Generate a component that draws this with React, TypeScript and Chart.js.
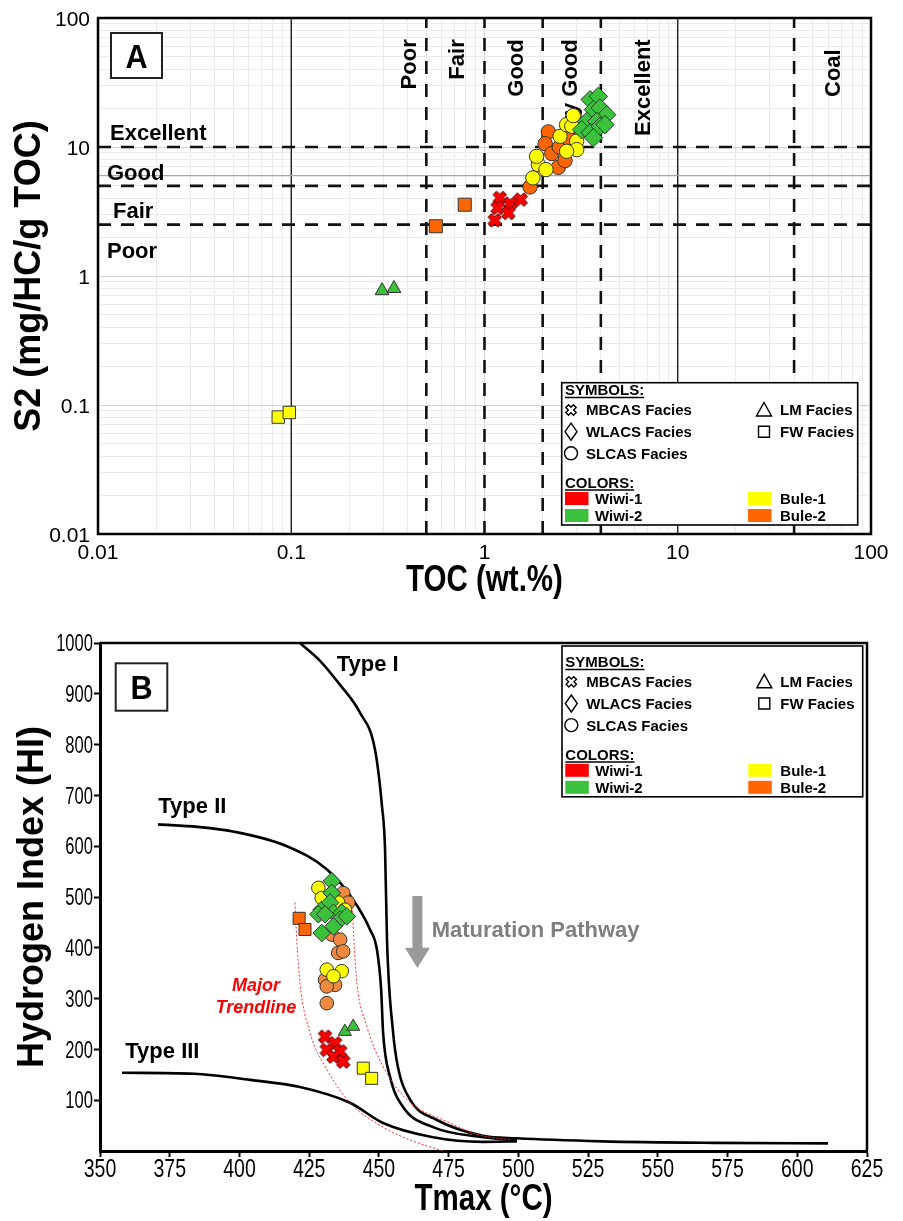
import React, { useEffect, useRef } from 'react';
import { Chart, registerables } from 'chart.js';

Chart.register(...registerables);

const FONT = '"Liberation Sans", Arial, Helvetica, sans-serif';

const RED = '#ff0000';
const GREEN = '#3cc13c';
const YELLOW = '#ffff00';
const ORANGE = '#ff6600';
const ORANGE_LIGHT = '#f08a40';

// ================= Panel A : S2 vs TOC =================
const tocTickLabels = [0.01, 0.1, 1, 10, 100];
const s2TickLabels = [0.01, 0.1, 1, 10, 100];
const tocDashedLimits = [0.5, 1, 2, 4, 40];
const tocSolidLimits = [0.1, 10];
const s2DashedLimits = [2.5, 5, 10];
const s2SolidLimits = [6];

const aWiwi1MBCAS = [
  { x: 1.2, y: 4.03 }, { x: 1.36, y: 3.64 }, { x: 1.54, y: 3.91 },
  { x: 1.17, y: 3.37 }, { x: 1.33, y: 3.08 }, { x: 1.13, y: 2.7 },
];
const aBule2FW = [{ x: 0.79, y: 3.57 }, { x: 0.56, y: 2.43 }];
const aWiwi2LM = [{ x: 0.295, y: 0.77 }, { x: 0.34, y: 0.8 }];
const aBule1FW = [{ x: 0.0857, y: 0.0806 }, { x: 0.0977, y: 0.0875 }];
const aBule2SLCAS = [
  { x: 1.72, y: 4.9 }, { x: 2.14, y: 13.1 }, { x: 2.06, y: 10.6 }, { x: 2.23, y: 8.89 },
  { x: 2.44, y: 9.95 }, { x: 2.68, y: 11.8 }, { x: 2.41, y: 6.96 }, { x: 2.61, y: 7.84 },
];
const aBule1SLCAS = [
  { x: 1.78, y: 5.76 }, { x: 1.9, y: 7.3 }, { x: 2.08, y: 6.68 }, { x: 1.86, y: 8.47 },
  { x: 2.46, y: 12.1 }, { x: 2.66, y: 14.9 }, { x: 2.94, y: 16.8 }, { x: 2.83, y: 14.5 },
  { x: 3.0, y: 11.1 }, { x: 3.0, y: 9.54 }, { x: 2.66, y: 9.26 }, { x: 2.88, y: 17.5 },
];
const aWiwi2WLACS = [
  { x: 3.52, y: 23.3 }, { x: 3.88, y: 24.7 }, { x: 3.66, y: 19.5 }, { x: 3.96, y: 20.1 },
  { x: 4.29, y: 17.8 }, { x: 3.38, y: 15.8 }, { x: 3.81, y: 15.8 }, { x: 3.18, y: 13.6 },
  { x: 3.52, y: 12.9 }, { x: 3.96, y: 14.5 }, { x: 3.66, y: 11.8 }, { x: 4.2, y: 14.9 },
];

// ================= Panel B : HI vs Tmax =================
const tmaxTicks = [350, 375, 400, 425, 450, 475, 500, 525, 550, 575, 600, 625];
const hiTicks = [100, 200, 300, 400, 500, 600, 700, 800, 900, 1000];

const typeICurve = [
  { x: 421.7, y: 1000 }, { x: 428.9, y: 965 }, { x: 436.0, y: 918 }, { x: 443.2, y: 863 },
  { x: 448.6, y: 790 }, { x: 451.1, y: 679 }, { x: 452.2, y: 594 }, { x: 452.9, y: 416 },
  { x: 455.1, y: 233 }, { x: 456.8, y: 166 }, { x: 461.2, y: 101 }, { x: 470.8, y: 61 },
  { x: 487.3, y: 30 }, { x: 499.5, y: 25 }, { x: 530, y: 19 }, { x: 570, y: 16 }, { x: 611, y: 15 },
];
const typeIICurve = [
  { x: 370.8, y: 643 }, { x: 385, y: 638 }, { x: 397.7, y: 629 }, { x: 417.0, y: 600 },
  { x: 431.4, y: 554 }, { x: 440.7, y: 495 }, { x: 446.8, y: 436 }, { x: 449.3, y: 396 },
  { x: 450.8, y: 318 }, { x: 451.5, y: 233 }, { x: 454.0, y: 146 }, { x: 458.6, y: 87 },
  { x: 469.4, y: 47 }, { x: 487.3, y: 27 }, { x: 499.5, y: 21 },
];
const typeIIICurve = [
  { x: 357.9, y: 154 }, { x: 383.7, y: 152 }, { x: 403.8, y: 140 }, { x: 421.7, y: 126 },
  { x: 439.6, y: 95 }, { x: 451.5, y: 55 }, { x: 469.4, y: 27 }, { x: 487.3, y: 18 }, { x: 499.5, y: 19 },
];
const trendLeft = [
  { x: 419.9, y: 489 }, { x: 420.5, y: 422 }, { x: 421.7, y: 331 }, { x: 425.3, y: 233 },
  { x: 431.4, y: 160 }, { x: 439.6, y: 95 }, { x: 451.5, y: 47 }, { x: 462, y: 20 }, { x: 473, y: 0 },
];
const trendRight = [
  { x: 440.4, y: 481 }, { x: 441.2, y: 400 }, { x: 442.1, y: 331 }, { x: 445.7, y: 245 },
  { x: 451.5, y: 166 }, { x: 460.1, y: 101 }, { x: 475.5, y: 55 }, { x: 485, y: 33 }, { x: 497, y: 22 },
];

const bWiwi2WLACS = [
  { x: 433.1, y: 531 }, { x: 433.1, y: 508 }, { x: 429.5, y: 475 }, { x: 432.5, y: 489 },
  { x: 428.3, y: 466 }, { x: 433.7, y: 469 }, { x: 436.7, y: 469 }, { x: 436.1, y: 456 },
  { x: 433.7, y: 442 }, { x: 429.5, y: 429 }, { x: 438.5, y: 462 }, { x: 430.7, y: 466 },
];
const bBule1SLCAS = [
  { x: 428.3, y: 518 }, { x: 429.5, y: 498 }, { x: 435.4, y: 489 }, { x: 437.8, y: 475 },
  { x: 431.3, y: 357 }, { x: 436.7, y: 354 }, { x: 433.7, y: 344 },
];
const bBule2SLCAS = [
  { x: 437.2, y: 508 }, { x: 439.0, y: 489 }, { x: 433.1, y: 426 }, { x: 436.1, y: 416 },
  { x: 435.4, y: 390 }, { x: 437.2, y: 393 }, { x: 430.7, y: 337 }, { x: 434.3, y: 327 },
  { x: 431.3, y: 324 }, { x: 431.3, y: 291 },
];
const bWiwi1MBCAS = [
  { x: 430.7, y: 225 }, { x: 434.3, y: 212 }, { x: 431.3, y: 199 },
  { x: 436.1, y: 196 }, { x: 433.7, y: 186 }, { x: 437.2, y: 176 },
];
const bWiwi2LM = [{ x: 437.8, y: 235 }, { x: 440.8, y: 245 }];
const bBule1FW = [{ x: 444.4, y: 163 }, { x: 447.4, y: 143 }];
const bBule2FW = [{ x: 421.4, y: 458 }, { x: 423.5, y: 436 }];

const symbolLabels = ['MBCAS Facies', 'WLACS Facies', 'SLCAS Facies', 'LM Facies', 'FW Facies'];
const colorLabels = ['Wiwi-1', 'Wiwi-2', 'Bule-1', 'Bule-2'];
const colorValues = [RED, GREEN, YELLOW, ORANGE];

// ---------------- helpers ----------------
function crossPath(ctx: CanvasRenderingContext2D, cx: number, cy: number, L: number, t: number) {
  const c = Math.SQRT1_2;
  const p = [[-t, -L], [t, -L], [t, -t], [L, -t], [L, t], [t, t], [t, L], [-t, L], [-t, t], [-L, t], [-L, -t], [-t, -t]];
  ctx.beginPath();
  p.forEach(([px, py], i) => {
    const rx = (px - py) * c;
    const ry = (px + py) * c;
    if (i === 0) ctx.moveTo(cx + rx, cy + ry);
    else ctx.lineTo(cx + rx, cy + ry);
  });
  ctx.closePath();
}

function makeCrossMarker(size: number, fill: string) {
  const cv = document.createElement('canvas');
  cv.width = size;
  cv.height = size;
  const g = cv.getContext('2d') as CanvasRenderingContext2D;
  const t = size * 0.15;
  const L = Math.sqrt(Math.pow(size / 2 - 1, 2) - t * t);
  crossPath(g, size / 2, size / 2, L, t);
  g.fillStyle = fill;
  g.fill();
  g.lineWidth = 1;
  g.strokeStyle = '#4a0000';
  g.stroke();
  return cv;
}

function isPow10(v: number) {
  if (!v) return false;
  const l = Math.log10(v);
  return Math.abs(l - Math.round(l)) < 1e-9;
}

function logGrid(majors: number[]) {
  const out: number[] = [];
  for (let i = 0; i < majors.length; i++) {
    out.push(majors[i]);
    if (i < majors.length - 1) for (let k = 2; k <= 9; k++) out.push(+(majors[i] * k).toPrecision(6));
  }
  return out;
}

function scatterSet(label: string, data: any[], style: any, color: string, radius: number, order: number, border = '#333') {
  return {
    type: 'scatter', label, data, order, showLine: false,
    pointStyle: style, pointRadius: radius, pointHoverRadius: radius,
    pointBackgroundColor: color, pointBorderColor: border, pointBorderWidth: 1,
  };
}

function drawText(
  ctx: CanvasRenderingContext2D, s: string, x: number, y: number, font: string,
  opts: { color?: string; align?: CanvasTextAlign; sx?: number; rot?: number } = {},
) {
  ctx.save();
  ctx.font = font;
  ctx.fillStyle = opts.color || '#000';
  ctx.textAlign = opts.align || 'left';
  ctx.textBaseline = 'alphabetic';
  ctx.translate(x, y);
  if (opts.rot) ctx.rotate(opts.rot);
  if (opts.sx) ctx.scale(opts.sx, 1);
  ctx.fillText(s, 0, 0);
  ctx.restore();
}

function letterBox(ctx: CanvasRenderingContext2D, s: string, x: number, y: number, w: number, h: number) {
  ctx.save();
  ctx.fillStyle = '#fff';
  ctx.fillRect(x, y, w, h);
  ctx.strokeStyle = '#222';
  ctx.lineWidth = 2;
  ctx.strokeRect(x, y, w, h);
  ctx.restore();
  drawText(ctx, s, x + w / 2, y + h / 2 + 12.2, `bold 34px ${FONT}`, { align: 'center', sx: 0.9 });
}

function drawLegend(ctx: CanvasRenderingContext2D, left: number, top: number, width: number, extraTop: number) {
  const height = 142.3 + extraTop;
  ctx.save();
  ctx.fillStyle = '#fff';
  ctx.fillRect(left, top, width, height);
  ctx.strokeStyle = '#000';
  ctx.lineWidth = 1.6;
  ctx.strokeRect(left, top, width, height);
  const f = `bold 15px ${FONT}`;
  const t0 = top + extraTop;
  const base = (c: number) => t0 + c + 5.4;
  const head = (s: string, c: number) => {
    drawText(ctx, s, left + 3.3, base(c), f);
    ctx.font = f;
    const w = ctx.measureText(s).width;
    ctx.beginPath();
    ctx.moveTo(left + 3.3, base(c) + 2.2);
    ctx.lineTo(left + 3.3 + w, base(c) + 2.2);
    ctx.lineWidth = 1.5;
    ctx.strokeStyle = '#000';
    ctx.stroke();
  };
  head('SYMBOLS:', 7.3);
  const rows = [27.3, 49, 70.6];
  const ix = left + 9.3;
  ctx.lineWidth = 1.4;
  ctx.strokeStyle = '#000';
  ctx.fillStyle = '#fff';
  crossPath(ctx, ix, t0 + rows[0], 5.4, 1.9);
  ctx.fill(); ctx.stroke();
  let cy = t0 + rows[1];
  ctx.beginPath();
  ctx.moveTo(ix, cy - 8.5); ctx.lineTo(ix + 6, cy); ctx.lineTo(ix, cy + 8.5); ctx.lineTo(ix - 6, cy); ctx.closePath();
  ctx.fill(); ctx.stroke();
  cy = t0 + rows[2];
  ctx.beginPath();
  ctx.arc(ix, cy, 6.5, 0, Math.PI * 2);
  ctx.fill(); ctx.stroke();
  const rx = left + 202.3;
  cy = t0 + rows[0];
  ctx.beginPath();
  ctx.moveTo(rx, cy - 7.5); ctx.lineTo(rx + 7.5, cy + 6); ctx.lineTo(rx - 7.5, cy + 6); ctx.closePath();
  ctx.fill(); ctx.stroke();
  cy = t0 + rows[1];
  ctx.beginPath();
  ctx.rect(rx - 5.5, cy - 5.5, 11, 11);
  ctx.fill(); ctx.stroke();
  drawText(ctx, symbolLabels[0], left + 24.3, base(rows[0]), f);
  drawText(ctx, symbolLabels[1], left + 24.3, base(rows[1]), f);
  drawText(ctx, symbolLabels[2], left + 24.3, base(rows[2]), f);
  drawText(ctx, symbolLabels[3], left + 218.3, base(rows[0]), f);
  drawText(ctx, symbolLabels[4], left + 218.3, base(rows[1]), f);
  head('COLORS:', 99.8);
  const crow = [115.8, 132.8];
  const sw = [[3.3, crow[0]], [3.3, crow[1]], [186.3, crow[0]], [186.3, crow[1]]];
  sw.forEach(([sx, c], i) => {
    ctx.fillStyle = colorValues[i];
    ctx.fillRect(left + sx, t0 + c - 6.5, 23.5, 13);
    const tx = sx < 100 ? left + 33.3 : left + 218.3;
    drawText(ctx, colorLabels[i], tx, base(c), f);
  });
  ctx.restore();
}

// tick labels placed from the chart's own scales
function drawXTickLabels(chart: any, vals: number[], size: number, sx: number, baseline: number) {
  const xs = chart.scales.x;
  const f = `${size}px ${FONT}`;
  vals.forEach((v) => drawText(chart.ctx, String(v), xs.getPixelForValue(v), baseline, f, { align: 'center', sx }));
}
function drawYTickLabels(chart: any, vals: number[], size: number, sx: number, right: number) {
  const ys = chart.scales.y;
  const f = `${size}px ${FONT}`;
  vals.forEach((v) => drawText(chart.ctx, String(v), right, ys.getPixelForValue(v) + 0.358 * size, f, { align: 'right', sx }));
}

const noHover = { legend: { display: false }, tooltip: { enabled: false } };

// ---------------- Panel A plugin ----------------
const panelAPlugin = {
  id: 'panelA',
  beforeDatasetsDraw(chart: any) {
    const { ctx, chartArea: a } = chart;
    const xs = chart.scales.x;
    const ys = chart.scales.y;
    ctx.save();
    ctx.beginPath();
    ctx.rect(a.left, a.top, a.right - a.left, a.bottom - a.top);
    ctx.clip();
    const vline = (v: number) => {
      const p = xs.getPixelForValue(v);
      ctx.beginPath(); ctx.moveTo(p, a.bottom); ctx.lineTo(p, a.top); ctx.stroke();
    };
    const hline = (v: number) => {
      const p = ys.getPixelForValue(v);
      ctx.beginPath(); ctx.moveTo(a.left, p); ctx.lineTo(a.right, p); ctx.stroke();
    };
    ctx.strokeStyle = '#111';
    ctx.lineWidth = 1.3;
    tocSolidLimits.forEach(vline);
    ctx.strokeStyle = '#a6a6a6';
    ctx.lineWidth = 1.2;
    s2SolidLimits.forEach(hline);
    ctx.setLineDash([13, 10]);
    ctx.strokeStyle = '#111';
    ctx.lineWidth = 2.6;
    tocDashedLimits.forEach(vline);
    s2DashedLimits.forEach(hline);
    ctx.restore();

    const lf = `bold 22px ${FONT}`;
    drawText(ctx, 'Excellent', 110, 140, lf);
    drawText(ctx, 'Good', 107, 180, lf);
    drawText(ctx, 'Fair', 113, 218, lf);
    drawText(ctx, 'Poor', 107, 258, lf);
    const vl = [
      ['Poor', 408, 39.3], ['Fair', 456, 39.3], ['Good', 515.5, 39.3],
      ['Very Good', 569.5, 39.3], ['Excellent', 641.7, 39.3], ['Coal', 832, 49.3],
    ];
    vl.forEach(([s, cx, top]: any) => drawText(ctx, s, cx + 7.9, top, lf, { align: 'right', rot: -Math.PI / 2 }));
  },
  afterDraw(chart: any) {
    const { ctx, chartArea: a } = chart;
    ctx.save();
    ctx.strokeStyle = '#000';
    ctx.lineWidth = 2.5;
    ctx.strokeRect(a.left, a.top, a.right - a.left, a.bottom - a.top);
    ctx.restore();
    drawXTickLabels(chart, tocTickLabels, 21, 1, 558.5);
    drawYTickLabels(chart, s2TickLabels, 21, 1, 90);
    drawLegend(ctx, 561.7, 382.7, 296, 0);
    letterBox(ctx, 'A', 111, 33, 51, 45);
    drawText(ctx, 'S2 (mg/HC/g TOC)', 40, (a.top + a.bottom) / 2, `bold 36px ${FONT}`, { align: 'center', rot: -Math.PI / 2 });
    drawText(ctx, 'TOC (wt.%)', (a.left + a.right) / 2, 591, `bold 36px ${FONT}`, { align: 'center', sx: 0.82 });
  },
};

// ---------------- Panel B plugin ----------------
const OY = 610;
const panelBPlugin = {
  id: 'panelB',
  afterDraw(chart: any) {
    const { ctx, chartArea: a } = chart;
    const xs = chart.scales.x;
    const ys = chart.scales.y;
    ctx.save();
    ctx.strokeStyle = '#000';
    ctx.lineWidth = 2.5;
    ctx.beginPath();
    ctx.moveTo(a.left, a.top);
    ctx.lineTo(a.right, a.top);
    ctx.lineTo(a.right, a.bottom);
    ctx.stroke();
    ctx.restore();

    const ax = xs.getPixelForValue(463.8);
    const yTop = ys.getPixelForValue(502);
    const yHead = ys.getPixelForValue(400);
    const yTip = ys.getPixelForValue(360);
    ctx.save();
    ctx.fillStyle = '#9a9a9a';
    ctx.beginPath();
    ctx.moveTo(ax - 5, yTop); ctx.lineTo(ax + 5, yTop); ctx.lineTo(ax + 5, yHead);
    ctx.lineTo(ax + 12.5, yHead); ctx.lineTo(ax, yTip); ctx.lineTo(ax - 12.5, yHead);
    ctx.lineTo(ax - 5, yHead); ctx.closePath();
    ctx.fill();
    ctx.restore();

    const tf = `bold 22px ${FONT}`;
    drawText(ctx, 'Type I', 336.7, 670.7 - OY, tf);
    drawText(ctx, 'Type II', 158.3, 812.7 - OY, tf);
    drawText(ctx, 'Type III', 125.3, 1058 - OY, tf);
    drawText(ctx, 'Maturation Pathway', 431.7, 937.3 - OY, tf, { color: '#7f7f7f' });
    const mf = `italic bold 18px ${FONT}`;
    drawText(ctx, 'Major', 256, 991 - OY, mf, { color: '#ff0000', align: 'center' });
    drawText(ctx, 'Trendline', 256, 1013 - OY, mf, { color: '#ff0000', align: 'center' });

    drawXTickLabels(chart, tmaxTicks, 25, 0.78, 1177 - OY);
    drawYTickLabels(chart, hiTicks, 23, 0.72, 93);
    drawLegend(ctx, 562, 646 - OY, 300.7, 8.5);
    letterBox(ctx, 'B', 115.7, 663.3 - OY, 51.6, 47.4);
    drawText(ctx, 'Hydrogen Index (HI)', 43, (a.top + a.bottom) / 2, `bold 36px ${FONT}`, { align: 'center', rot: -Math.PI / 2 });
    drawText(ctx, 'Tmax (\u00B0C)', (a.left + a.right) / 2, 1210 - OY, `bold 36px ${FONT}`, { align: 'center', sx: 0.82 });
  },
};

function configA(cross: HTMLCanvasElement): any {
  const gridColor = (c: any) => (c.tick && isPow10(c.tick.value) ? '#d4d4d4' : '#ebebeb');
  return {
    type: 'scatter',
    data: {
      datasets: [
        scatterSet('Wiwi-1 MBCAS', aWiwi1MBCAS, cross, RED, 7, 1),
        scatterSet('Wiwi-2 WLACS', aWiwi2WLACS, 'rectRot', GREEN, 9.2, 2),
        scatterSet('Bule-1 SLCAS', aBule1SLCAS, 'circle', YELLOW, 7.2, 3),
        scatterSet('Bule-2 SLCAS', aBule2SLCAS, 'circle', ORANGE, 7.2, 4),
        scatterSet('Bule-2 FW', aBule2FW, 'rect', ORANGE, 9.2, 5),
        scatterSet('Wiwi-2 LM', aWiwi2LM, 'triangle', GREEN, 8, 5),
        scatterSet('Bule-1 FW', aBule1FW, 'rect', YELLOW, 8.8, 5),
      ],
    },
    options: {
      animation: false,
      responsive: false,
      devicePixelRatio: 1,
      events: [],
      layout: { padding: { top: 18, right: 32, left: 0, bottom: 0 } },
      plugins: noHover,
      scales: {
        x: {
          type: 'logarithmic', min: 0.01, max: 100, position: 'bottom',
          afterBuildTicks: (s: any) => { s.ticks = logGrid(tocTickLabels).map((v) => ({ value: v })); },
          afterFit: (s: any) => { s.height = 76; s.paddingLeft = 0; s.paddingRight = 0; },
          ticks: { display: false, autoSkip: false },
          grid: { color: gridColor, lineWidth: 1, drawTicks: false },
          border: { display: false },
        },
        y: {
          type: 'logarithmic', min: 0.01, max: 100, position: 'left',
          afterBuildTicks: (s: any) => { s.ticks = logGrid(s2TickLabels).map((v) => ({ value: v })); },
          afterFit: (s: any) => { s.width = 98; s.paddingTop = 0; s.paddingBottom = 0; },
          ticks: { display: false, autoSkip: false },
          grid: { color: gridColor, lineWidth: 1, drawTicks: false },
          border: { display: false },
        },
      },
    },
    plugins: [panelAPlugin],
  };
}

function curveSet(label: string, data: any[], color: string, width: number, dash: number[] = []) {
  return {
    type: 'line', label, data, order: 10, borderColor: color, borderWidth: width, borderDash: dash,
    pointRadius: 0, fill: false, cubicInterpolationMode: 'monotone', showLine: true,
  };
}

function configB(cross: HTMLCanvasElement): any {
  return {
    type: 'scatter',
    data: {
      datasets: [
        scatterSet('Wiwi-1 MBCAS', bWiwi1MBCAS, cross, RED, 7, 1),
        scatterSet('Wiwi-2 LM', bWiwi2LM, 'triangle', GREEN, 7.5, 1),
        scatterSet('Bule-1 FW', bBule1FW, 'rect', YELLOW, 8.5, 2),
        scatterSet('Bule-2 FW', bBule2FW, 'rect', ORANGE, 8.5, 2),
        scatterSet('Wiwi-2 WLACS', bWiwi2WLACS, 'rectRot', GREEN, 8.8, 3),
        scatterSet('Bule-1 SLCAS', bBule1SLCAS, 'circle', YELLOW, 6.8, 4),
        scatterSet('Bule-2 SLCAS', bBule2SLCAS, 'circle', ORANGE_LIGHT, 6.8, 5),
        curveSet('Trend left', trendLeft, '#ff2a2a', 1, [2, 2]),
        curveSet('Trend right', trendRight, '#ff2a2a', 1, [2, 2]),
        curveSet('Type I', typeICurve, '#000', 2.6),
        curveSet('Type II', typeIICurve, '#000', 2.6),
        curveSet('Type III', typeIIICurve, '#000', 2.6),
      ],
    },
    options: {
      animation: false,
      responsive: false,
      devicePixelRatio: 1,
      events: [],
      layout: { padding: { top: 33, right: 36, left: 0, bottom: 0 } },
      plugins: noHover,
      scales: {
        x: {
          type: 'linear', min: 350, max: 625, position: 'bottom',
          afterBuildTicks: (s: any) => { s.ticks = tmaxTicks.map((v) => ({ value: v })); },
          afterFit: (s: any) => { s.height = 70; s.paddingLeft = 0; s.paddingRight = 0; },
          ticks: { display: false, autoSkip: false },
          grid: { display: true, drawOnChartArea: false, drawTicks: true, tickLength: 6, tickColor: '#000', tickWidth: 2 },
          border: { display: true, color: '#000', width: 3 },
        },
        y: {
          type: 'linear', min: 0, max: 1000, position: 'left',
          afterBuildTicks: (s: any) => { s.ticks = hiTicks.map((v) => ({ value: v })); },
          afterFit: (s: any) => { s.width = 100; s.paddingTop = 0; s.paddingBottom = 0; },
          ticks: { display: false, autoSkip: false },
          grid: { display: true, drawOnChartArea: false, drawTicks: true, tickLength: 6, tickColor: '#000', tickWidth: 2 },
          border: { display: true, color: '#000', width: 3 },
        },
      },
    },
    plugins: [panelBPlugin],
  };
}

export default function App() {
  const refA = useRef<HTMLCanvasElement>(null);
  const refB = useRef<HTMLCanvasElement>(null);
  useEffect(() => {
    const crossA = makeCrossMarker(17, RED);
    const crossB = makeCrossMarker(17, RED);
    const chartA = new Chart(refA.current as HTMLCanvasElement, configA(crossA));
    const chartB = new Chart(refB.current as HTMLCanvasElement, configB(crossB));
    return () => {
      chartA.destroy();
      chartB.destroy();
    };
  }, []);
  return (
    <div style={{ position: 'absolute', left: 0, top: 0, width: 903, height: 1221, background: '#fff' }}>
      <canvas ref={refA} width={903} height={610} style={{ position: 'absolute', left: 0, top: 0, width: 903, height: 610 }} />
      <canvas ref={refB} width={903} height={611} style={{ position: 'absolute', left: 0, top: 610, width: 903, height: 611 }} />
    </div>
  );
}
